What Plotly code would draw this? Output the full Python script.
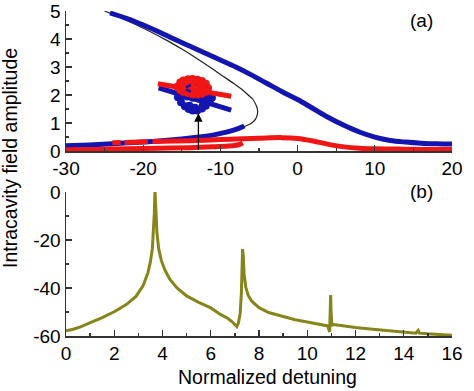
import plotly.graph_objects as go

# ---------------- Panel (a): intracavity field amplitude vs detuning ----------------
black_x = [-25, -23, -21, -19, -17, -15, -13, -11, -9.5, -8.2, -7.2, -6.4, -5.8, -5.4, -5.18, -5.22, -5.45, -5.9, -6.5, -7.0]
black_y = [5.0, 4.77, 4.52, 4.25, 3.96, 3.64, 3.3, 2.93, 2.64, 2.4, 2.2, 2.0, 1.85, 1.65, 1.46, 1.3, 1.14, 1.01, 0.92, 0.87]

blue_upper_x = [-24.3, -22, -20, -18, -16, -14, -12, -10, -8, -6, -4, -2, 0, 2, 4, 6, 8, 10, 12, 14, 16, 18, 20]
blue_upper_y = [4.93, 4.72, 4.5, 4.26, 4.0, 3.75, 3.5, 3.25, 3.0, 2.72, 2.42, 2.12, 1.84, 1.52, 1.2, 0.92, 0.68, 0.5, 0.38, 0.32, 0.28, 0.26, 0.25]

blue_lower_x = [-30, -27, -24, -21, -18, -15, -13, -11, -9.5, -8.5, -7.8, -7.2, -6.9]
blue_lower_y = [0.19, 0.22, 0.26, 0.31, 0.36, 0.43, 0.49, 0.57, 0.66, 0.73, 0.79, 0.86, 0.9]

red_lower_x = [-30, -26, -22, -18, -14, -11, -9, -8, -7.4, -7.1]
red_lower_y = [0.05, 0.06, 0.08, 0.1, 0.12, 0.15, 0.18, 0.21, 0.25, 0.29]

red_hump_x = [-24, -22.9, None, -22.4, -19.4, None, -18.8, -16, -13, -10, -8, -6, -4, -2, 0, 2, 4, 6, 8, 10, 13, 16, 20]
red_hump_y = [0.3, 0.31, None, 0.31, 0.33, None, 0.34, 0.36, 0.38, 0.41, 0.43, 0.45, 0.47, 0.48, 0.45, 0.36, 0.24, 0.15, 0.1, 0.08, 0.07, 0.06, 0.06]

# inset (zoomed trajectory sketch)
inset_blue_line_x = [-18.0, -8.6]
inset_blue_line_y = [2.26, 1.46]
inset_red_line_x = [-18.1, -8.6]
inset_red_line_y = [2.40, 1.96]
inset_blue_x = [-15.5, -15.1, -14.6, -14.1, -13.6, -13.0, -12.4, -11.9, -11.4, -11.1, -11.5, -12.2, -12.9, -13.6, -14.3, -14.9, -13.3, -12.3, -14.0]
inset_blue_y = [1.92, 1.74, 1.6, 1.5, 1.45, 1.45, 1.52, 1.62, 1.75, 1.9, 1.98, 1.93, 1.88, 1.9, 1.95, 1.98, 1.55, 1.62, 1.62]
inset_red_x = [-15.6, -15.2, -14.8, -14.2, -13.6, -13.0, -12.4, -11.9, -11.6, -11.9, -12.4, -13.0, -13.6, -14.2, -14.8, -15.2,
               -14.6, -13.9, -13.2, -12.6, -12.2, -14.4, -13.6, -12.8]
inset_red_y = [2.3, 2.45, 2.52, 2.56, 2.57, 2.55, 2.5, 2.4, 2.25, 2.12, 2.05, 2.02, 2.03, 2.07, 2.12, 2.18,
               2.3, 2.42, 2.4, 2.3, 2.2, 2.2, 2.15, 2.15]
inset_c_x = [-14.0, -14.3, -14.3, -14.0]
inset_c_y = [2.34, 2.3, 2.18, 2.14]

arrow_x = -12.85
arrow_tail_y = 0.0
arrow_head_y = 1.35

# ---------------- Panel (b): spectrum ----------------
spec_x = [0, 0.3, 0.6, 1.0, 1.5, 2.0, 2.5, 2.9, 3.2, 3.4, 3.5, 3.58, 3.63, 3.66, 3.68, 3.69, 3.71, 3.73, 3.77, 3.84,
          3.95, 4.1, 4.3, 4.6, 5.0, 5.5, 6.0, 6.4, 6.7, 6.9, 7.02, 7.08, 7.15, 7.22, 7.27, 7.3, 7.32, 7.35, 7.38, 7.45,
          7.55, 7.7, 8.0, 8.4, 9.0, 9.5, 10.0, 10.5, 10.85, 10.9, 10.93, 10.95, 10.97, 10.99, 11.02, 11.1, 11.5, 12.0,
          12.5, 13.0, 13.5, 14.0, 14.5, 14.6, 14.65, 15.0, 15.5, 16.0]
spec_y = [-57.8, -57.2, -56.2, -54.6, -52.3, -49.9, -46.9, -43.5, -39.0, -33.5, -29.0, -23.5, -16.5, -9.0, -2.0, 0.0, -4.0, -10.0, -17.0, -23.5,
          -28.5, -32.5, -36.3, -40.0, -43.3, -46.0, -48.3, -51.0, -52.6, -54.2, -55.8, -56.1, -54.5, -50.5, -42.0, -30.0, -23.8, -27.0, -34.0, -39.5,
          -43.0, -45.5, -48.2, -50.2, -52.0, -53.2, -54.2, -55.0, -55.8, -57.5, -58.3, -50.0, -42.9, -50.0, -55.5, -55.2, -55.9, -56.5,
          -57.0, -57.5, -58.0, -58.4, -58.8, -57.7, -58.8, -59.1, -59.4, -59.7]

BLUE = "#1414b0"
RED = "#f01616"
OLIVE = "#85851c"
AX = "#333333"

fig = go.Figure()
fig.add_trace(go.Scatter(x=black_x, y=black_y, mode="lines", line=dict(color="#222222", width=1.2, shape="spline", smoothing=1.0), xaxis="x", yaxis="y"))
fig.add_trace(go.Scatter(x=blue_upper_x, y=blue_upper_y, mode="lines", line=dict(color=BLUE, width=5, shape="spline"), xaxis="x", yaxis="y"))
fig.add_trace(go.Scatter(x=blue_lower_x, y=blue_lower_y, mode="lines", line=dict(color=BLUE, width=5, shape="spline"), xaxis="x", yaxis="y"))
fig.add_trace(go.Scatter(x=red_lower_x, y=red_lower_y, mode="lines", line=dict(color=RED, width=5, shape="spline"), xaxis="x", yaxis="y"))
fig.add_trace(go.Scatter(x=red_hump_x, y=red_hump_y, mode="lines", line=dict(color=RED, width=5, shape="spline"), xaxis="x", yaxis="y"))
fig.add_trace(go.Scatter(x=inset_blue_line_x, y=inset_blue_line_y, mode="lines", line=dict(color=BLUE, width=5), xaxis="x", yaxis="y"))
fig.add_trace(go.Scatter(x=inset_blue_x, y=inset_blue_y, mode="markers", marker=dict(color=BLUE, size=8), xaxis="x", yaxis="y"))
fig.add_trace(go.Scatter(x=inset_red_line_x, y=inset_red_line_y, mode="lines", line=dict(color=RED, width=5), xaxis="x", yaxis="y"))
fig.add_trace(go.Scatter(x=inset_red_x, y=inset_red_y, mode="markers", marker=dict(color=RED, size=8), xaxis="x", yaxis="y"))
fig.add_trace(go.Scatter(x=inset_c_x, y=inset_c_y, mode="markers", marker=dict(color=BLUE, size=3), xaxis="x", yaxis="y"))

fig.add_trace(go.Scatter(x=spec_x, y=spec_y, mode="lines", line=dict(color=OLIVE, width=3), xaxis="x2", yaxis="y2"))

axis_common = dict(showline=True, linecolor=AX, linewidth=1.5, ticks="inside", ticklen=6, tickwidth=1.3,
                   tickcolor=AX, showgrid=False, zeroline=False, mirror=False, automargin=False,
                   tickfont=dict(size=19, color="black"))

fig.update_layout(
    template="none",
    width=474, height=391,
    margin=dict(l=66, r=22, t=11, b=55, pad=0, autoexpand=False),
    showlegend=False,
    paper_bgcolor="white", plot_bgcolor="white",
    font=dict(family="Liberation Sans, Arial, Helvetica, sans-serif", size=19, color="black"),
    xaxis=dict(domain=[0, 1], range=[-30, 20], anchor="y",
               tickvals=[-30, -20, -10, 0, 10, 20], ticktext=["-30", "-20", "-10", "0", "10", "20"],
               minor=dict(ticks="inside", ticklen=3, tickcolor=AX, dtick=5), **axis_common),
    yaxis=dict(domain=[0.569, 1], range=[0, 5], anchor="x",
               tickvals=[0, 1, 2, 3, 4, 5],
               minor=dict(ticks="inside", ticklen=3, tickcolor=AX, dtick=0.5), **axis_common),
    xaxis2=dict(domain=[0, 1], range=[0, 16], anchor="y2",
                tickvals=[0, 2, 4, 6, 8, 10, 12, 14, 16],
                minor=dict(ticks="inside", ticklen=3, tickcolor=AX, dtick=1), **axis_common),
    yaxis2=dict(domain=[0, 0.443], range=[-60, 0], anchor="x2",
                tickvals=[-60, -40, -20, 0], ticktext=["-60", "-40", "-20", "0"],
                minor=dict(ticks="inside", ticklen=3, tickcolor=AX, dtick=10), **axis_common),
    annotations=[
        dict(x=arrow_x, y=arrow_head_y, ax=arrow_x, ay=arrow_tail_y, xref="x", yref="y", axref="x", ayref="y",
             showarrow=True, arrowhead=2, arrowsize=1.3, arrowwidth=1.3, arrowcolor="black", text=""),
        dict(text="(a)", x=0.921, y=0.971, xref="paper", yref="paper", showarrow=False,
             font=dict(size=19), xanchor="center", yanchor="middle"),
        dict(text="(b)", x=0.921, y=0.445, xref="paper", yref="paper", showarrow=False,
             font=dict(size=19), xanchor="center", yanchor="middle"),
        dict(text="Intracavity field amplitude", x=-0.145, y=0.548, xref="paper", yref="paper", showarrow=False,
             textangle=-90, font=dict(size=19.5), xanchor="center", yanchor="middle"),
        dict(text="Normalized detuning", x=0.523, y=-0.126, xref="paper", yref="paper", showarrow=False,
             font=dict(size=19.5), xanchor="center", yanchor="middle"),
    ],
)

# remove the browser's default 8 px body margin so the figure fills the window exactly
fig.write_html("out.html", config={"displayModeBar": False, "staticPlot": True},
               post_script="document.body.style.margin='0';document.body.style.overflow='hidden';")
